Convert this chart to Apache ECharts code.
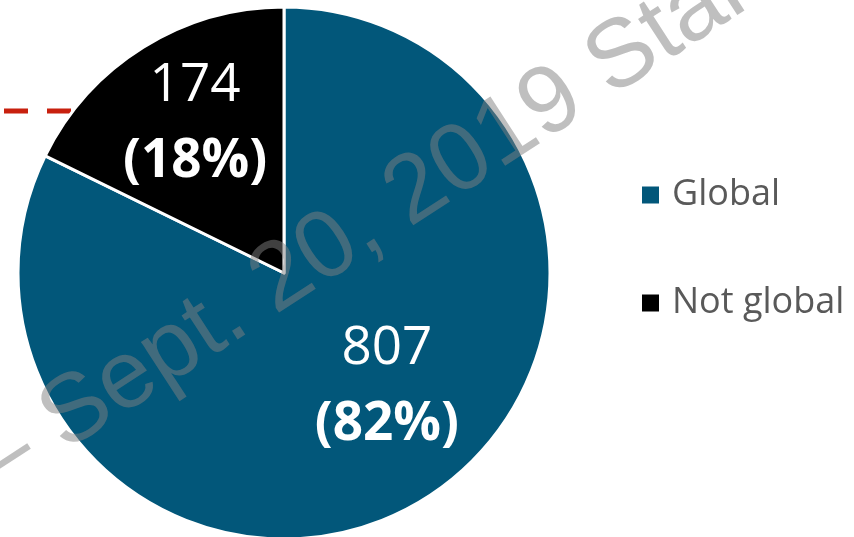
<!DOCTYPE html>
<html>
<head>
<meta charset="utf-8">
<script src="https://cdn.jsdelivr.net/npm/echarts@6/dist/echarts.min.js"></script>
<style>
  html, body { margin: 0; padding: 0; background: #ffffff; }
  #chart { width: 854px; height: 537px; }
</style>
</head>
<body>
<div id="chart"></div>
<script>
// Pie of firms by global reach
const categories = ['Global', 'Not global'];
const counts = [807, 174];
const sliceColors = ['#02577A', '#000000'];
const watermarkText = '\u2013 Sept. 20, 2019 Star';

const FONT = '"Open Sans", Lato, sans-serif';

// nudges for the two in-slice labels, per slice
const labelShift = [[31, -2], [-17, -34]];

const chart = echarts.init(document.getElementById('chart'), null, { renderer: 'canvas' });

chart.setOption({
  animation: false,
  backgroundColor: '#ffffff',
  legend: {
    orient: 'vertical',
    left: 635,
    top: 170,
    icon: 'rect',
    itemWidth: 19,
    itemHeight: 19,
    itemGap: 68,
    data: categories,
    textStyle: {
      color: '#595959',
      fontSize: 36,
      fontFamily: FONT,
      lineHeight: 36,
      padding: [0, 0, 4, 7]
    }
  },
  graphic: [
    {
      type: 'line',
      z: -10,
      silent: true,
      shape: { x1: 4, y1: 111, x2: 110, y2: 111 },
      style: { stroke: '#C8200E', lineWidth: 5, lineDash: [24, 19] }
    },
    {
      type: 'text',
      z: 100,
      silent: true,
      x: -43,
      y: 433,
      rotation: 33 * Math.PI / 180,
      style: {
        text: watermarkText,
        fill: 'rgba(128,128,128,0.5)',
        font: '96px "Liberation Sans", Arial, sans-serif',
        align: 'left',
        verticalAlign: 'top'
      }
    }
  ],
  series: [
    {
      type: 'pie',
      center: [284, 273],
      radius: 266,
      startAngle: 90,
      clockwise: true,
      percentPrecision: 0,
      avoidLabelOverlap: false,
      itemStyle: { borderColor: '#ffffff', borderWidth: 3 },
      emphasis: { disabled: true },
      label: {
        show: true,
        position: 'inside',
        formatter: '{v|{c}}\n{p|({d}%)}',
        rich: {
          v: { color: '#ffffff', fontSize: 53, fontFamily: FONT, lineHeight: 76 },
          p: { color: '#ffffff', fontSize: 53, fontWeight: 'bold', fontFamily: FONT, lineHeight: 76 }
        }
      },
      labelLine: { show: false },
      labelLayout: function (params) {
        const s = labelShift[params.dataIndex];
        return { dx: s[0], dy: s[1] };
      },
      data: categories.map((name, i) => ({
        name: name,
        value: counts[i],
        itemStyle: { color: sliceColors[i] }
      }))
    }
  ]
});
</script>
</body>
</html>
